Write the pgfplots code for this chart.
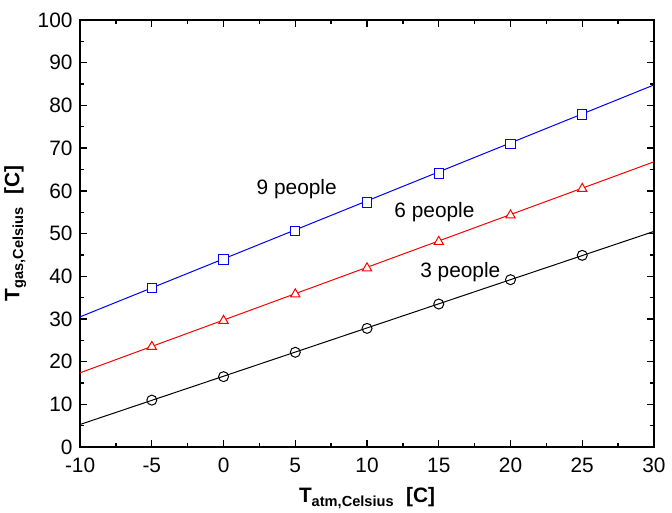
\documentclass[border=0pt]{standalone}
\usepackage{pgfplots}
\pgfplotsset{compat=1.18}
\usepackage{fontspec}
\setmainfont{Liberation Sans}
\usetikzlibrary{calc}

\begin{document}
\begin{tikzpicture}
\begin{axis}[
  name=ax,
  width=344pt, height=256pt, scale only axis,
  xmin=-10, xmax=30, ymin=0, ymax=100,
  xtick={-10,-5,...,30}, ytick={0,10,...,100},
  minor x tick num=1, minor y tick num=1,
  tick align=inside, tick pos=both,
  major tick length=4pt, minor tick length=2.5pt,
  axis line style={line width=1.2pt},
  every tick/.style={black, line width=0.8pt},
  /pgf/number format/assume math mode=true,
  ticklabel style={font=\fontsize{12.5}{14}\selectfont},
  xticklabel style={yshift=-3pt},
  yticklabel style={xshift=-1pt},
  xlabel={\textbf{T\textsubscript{atm,Celsius}\ \ [C]}},
  ylabel={\textbf{T\textsubscript{gas,Celsius}\ \ [C]}},
  label style={font=\fontsize{12.5}{14}\selectfont},
  xlabel style={yshift=-2pt},
  ylabel style={yshift=0pt},
  clip=false,
]
% fitted lines across full range
\addplot[black, line width=0.6pt] coordinates {(-10,5.3) (30,50.5)};
\addplot[red, line width=0.6pt] coordinates {(-10,17.4) (30,66.8)};
\addplot[blue, line width=0.6pt] coordinates {(-10,30.5) (30,84.8)};
% data points
\addplot[only marks, mark=o, mark size=3pt, black, mark options={fill=white, line width=0.6pt}] coordinates {
  (-5,11.0) (0,16.5) (5,22.2) (10,27.8) (15,33.5) (20,39.2) (25,44.9)};
\addplot[only marks, mark=triangle*, mark size=3.2pt, red, mark options={fill=white, line width=0.6pt}] coordinates {
  (-5,23.5) (0,29.6) (5,35.8) (10,41.9) (15,48.1) (20,54.3) (25,60.5)};
\addplot[only marks, mark=square*, mark size=2.8pt, blue, mark options={fill=white, line width=0.6pt}] coordinates {
  (-5,37.2) (0,43.9) (5,50.6) (10,57.3) (15,64.1) (20,71.0) (25,77.9)};
\node[font=\fontsize{12.5}{14}\selectfont] at (axis cs:5.1,60.4) {9 people};
\node[font=\fontsize{12.5}{14}\selectfont] at (axis cs:14.7,55.0) {6 people};
\node[font=\fontsize{12.5}{14}\selectfont] at (axis cs:16.5,41.0) {3 people};
\end{axis}
\pgfresetboundingbox
\path ($(ax.south west)+(-48pt,-39pt)$) rectangle ($(ax.north east)+(10.8pt,12pt)$);
\end{tikzpicture}
\end{document}
